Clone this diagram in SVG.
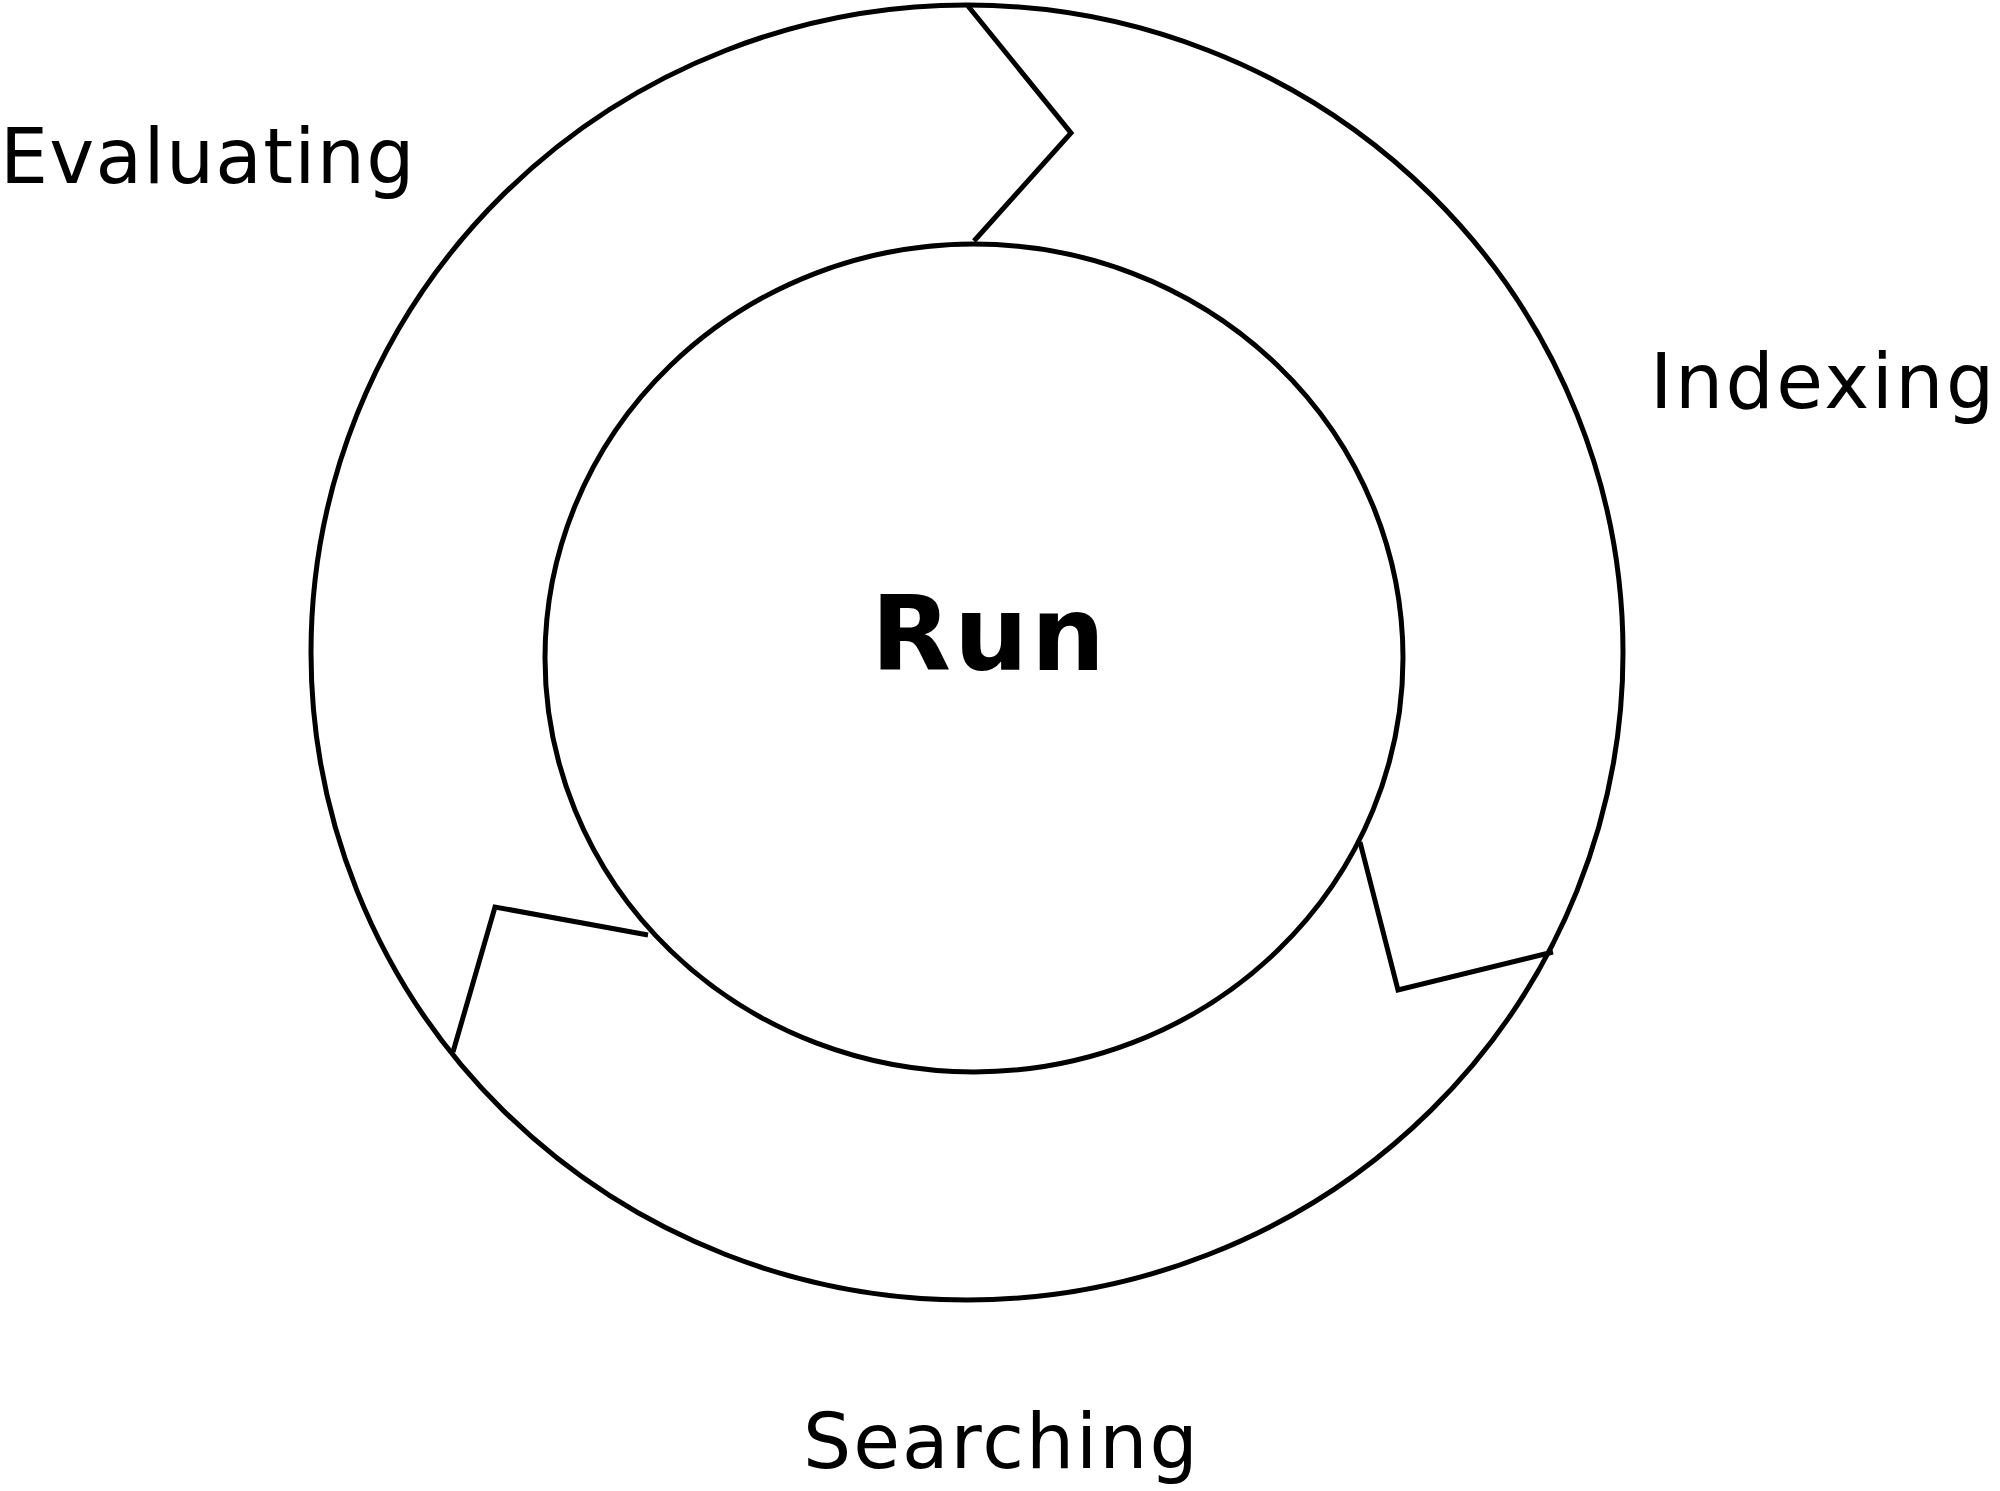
<svg xmlns="http://www.w3.org/2000/svg" width="2000" height="1491" viewBox="0 0 2000 1491">
<style>
.ring{fill:none;stroke:#000;stroke-width:5}
.conn{fill:none;stroke:#000;stroke-width:5;stroke-linejoin:miter}
.lbl{font-family:"DejaVu Sans",Verdana,sans-serif;font-size:76px;fill:#000}
.title{font-family:"DejaVu Sans",Verdana,sans-serif;font-size:104px;font-weight:bold;fill:#000}
</style>
<rect width="2000" height="1491" fill="#fff"/>
<g id="outer"><ellipse class="ring" cx="967" cy="652.5" rx="656" ry="647.5"/></g>
<g id="inner"><ellipse class="ring" cx="974" cy="658" rx="429" ry="414"/><text class="title" x="871" y="670" letter-spacing="3">Run</text></g>
<g id="connectors">
<polyline class="conn" points="968,6 1071,133 974,241"/>
<polyline class="conn" points="1360,842 1398,990 1553,952"/>
<polyline class="conn" points="453,1052 495,907 648,935"/>
</g>
<g id="evaluating"><text class="lbl" x="0" y="183" letter-spacing="1.3">Evaluating</text></g>
<g id="indexing"><text class="lbl" x="1650" y="408" letter-spacing="2.5">Indexing</text></g>
<g id="searching"><text class="lbl" x="803" y="1468" letter-spacing="2">Searching</text></g>
</svg>
